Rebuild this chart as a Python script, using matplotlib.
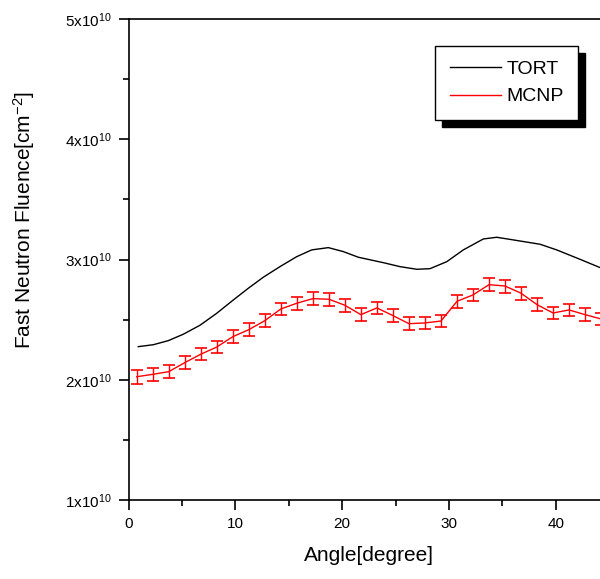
import numpy as np
import matplotlib
matplotlib.use("Agg")
import matplotlib.pyplot as plt
from matplotlib.lines import Line2D
from matplotlib.ticker import FixedLocator, MultipleLocator, FuncFormatter

plt.rcParams["font.family"] = ["Liberation Sans", "DejaVu Sans"]
plt.rcParams["mathtext.default"] = "regular"

# TORT (deterministic) curve, fluence in units of 1e10 cm^-2
TORT_ANGLE = [0.90, 2.30, 3.71, 5.11, 6.68, 8.24, 9.80, 11.20, 12.61, 14.17,
              15.74, 17.14, 18.70, 20.10, 21.51, 23.85, 25.41, 26.98, 28.22, 29.79,
              31.34, 33.22, 34.47, 36.03, 38.53, 40.09, 42.27, 44.15, 45.00]
TORT_FLUENCE = [2.277, 2.293, 2.327, 2.380, 2.455, 2.554, 2.665, 2.762, 2.854, 2.942,
                3.025, 3.081, 3.100, 3.067, 3.020, 2.975, 2.942, 2.920, 2.925, 2.983,
                3.081, 3.172, 3.186, 3.164, 3.128, 3.081, 3.003, 2.934, 2.900]

# MCNP tallies with 1-sigma errors
MCNP_ANGLE = [0.75, 2.25, 3.75, 5.25, 6.75, 8.25, 9.75, 11.25, 12.75, 14.25,
              15.75, 17.25, 18.75, 20.25, 21.75, 23.25, 24.75, 26.25, 27.75, 29.25,
              30.75, 32.25, 33.75, 35.25, 36.75, 38.25, 39.75, 41.25, 42.75, 44.25]
MCNP_FLUENCE = [2.027, 2.047, 2.069, 2.144, 2.214, 2.274, 2.360, 2.418, 2.493, 2.590,
                2.638, 2.676, 2.671, 2.621, 2.543, 2.599, 2.535, 2.468, 2.474, 2.490,
                2.654, 2.707, 2.792, 2.781, 2.721, 2.626, 2.557, 2.582, 2.543, 2.507]
MCNP_ERR = [0.060, 0.055, 0.053, 0.052, 0.052, 0.052, 0.052, 0.052, 0.053, 0.053,
            0.053, 0.053, 0.053, 0.053, 0.052, 0.052, 0.052, 0.052, 0.052, 0.052,
            0.053, 0.053, 0.054, 0.054, 0.053, 0.053, 0.052, 0.052, 0.052, 0.052]

Y_TICKS = [1, 2, 3, 4, 5]
X_TICKS = [0, 10, 20, 30, 40]
SCALE = 1e10


def sci_label(v, pos):
    return r"$%dx10^{10}$" % round(v / SCALE)


fig = plt.figure(figsize=(6, 5.79), dpi=100)
ax = fig.add_axes([0.2145, 0.1359, 0.8007, 0.8313])

ax.plot(TORT_ANGLE, np.array(TORT_FLUENCE) * SCALE, color="black", lw=1.0)
ax.errorbar(MCNP_ANGLE, np.array(MCNP_FLUENCE) * SCALE, yerr=np.array(MCNP_ERR) * SCALE,
            color="red", lw=1.0, elinewidth=1.0, capsize=4, capthick=1.2)

ax.set_xlim(0, 45)
ax.set_ylim(1 * SCALE, 5 * SCALE)
ax.xaxis.set_major_locator(FixedLocator(X_TICKS))
ax.xaxis.set_minor_locator(MultipleLocator(5))
ax.yaxis.set_major_locator(FixedLocator([v * SCALE for v in Y_TICKS]))
ax.yaxis.set_minor_locator(MultipleLocator(0.5 * SCALE))
ax.yaxis.set_major_formatter(FuncFormatter(sci_label))

ax.tick_params(which="major", direction="out", length=7, width=1.2, labelsize=11, pad=5)
ax.tick_params(which="minor", direction="out", length=4, width=1.2)
for s in ax.spines.values():
    s.set_linewidth(1.2)

ax.set_xlabel("Angle[degree]", fontsize=15)
ax.set_ylabel(r"Fast Neutron Fluence[cm$^{-2}$]", fontsize=15)
ax.xaxis.set_label_coords(0.5, -0.095)
ax.yaxis.set_label_coords(-0.19, 0.582)

handles = [Line2D([], [], color="black", lw=1.0, label="TORT"),
           Line2D([], [], color="red", lw=1.0, label="MCNP")]
leg = ax.legend(handles=handles, loc="upper right", bbox_to_anchor=(0.936, 0.944), borderaxespad=0,
                fontsize=14, fancybox=False, edgecolor="black", framealpha=1,
                handlelength=2.6, handletextpad=0.3, borderpad=0.75, labelspacing=0.5,
                shadow={"ox": 5, "oy": -5, "color": "black", "alpha": 1})
leg.get_frame().set_linewidth(1.0)

fig.savefig("out.png", dpi=100)
